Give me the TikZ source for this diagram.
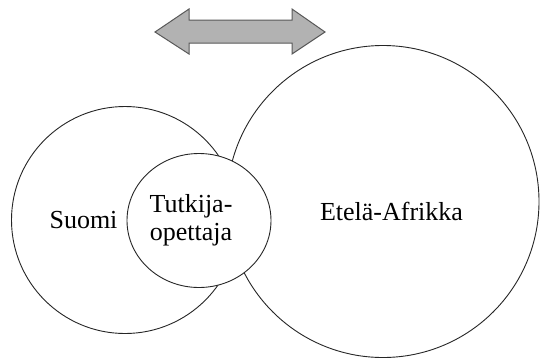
\documentclass[tikz,border=0pt]{standalone}
\usepackage{fontspec}
\setmainfont{Liberation Serif}
\begin{document}
\begin{tikzpicture}[x=1pt,y=-1pt,
  ring/.style={draw=black!85,line width=0.9pt,fill=white},
  lbl/.style={font=\fontsize{26}{28}\selectfont,anchor=base,inner sep=0pt,align=center},
  dblarrow/.style={draw=black!65,fill=black!30,line width=1pt,line join=miter}]
\useasboundingbox (0,0) rectangle (541,360);
\draw[dblarrow] (155,32) -- (189,9) -- (189,20) -- (292,20) -- (292,9) -- (325,32)
  -- (292,54) -- (292,43) -- (189,43) -- (189,54) -- cycle;
\draw[ring] (383,201.5) circle[radius=156];
\draw[ring] (125,220) circle[radius=113.5];
\draw[ring] (199,220.5) ellipse[x radius=72,y radius=67];
\node[lbl] (suomi) at (83.5,228) {Suomi};
\node[lbl] (tutkija) at (191,240) {Tutkija-\\opettaja};
\node[lbl] (etela) at (391.5,220) {Etelä-Afrikka};
\end{tikzpicture}
\end{document}
